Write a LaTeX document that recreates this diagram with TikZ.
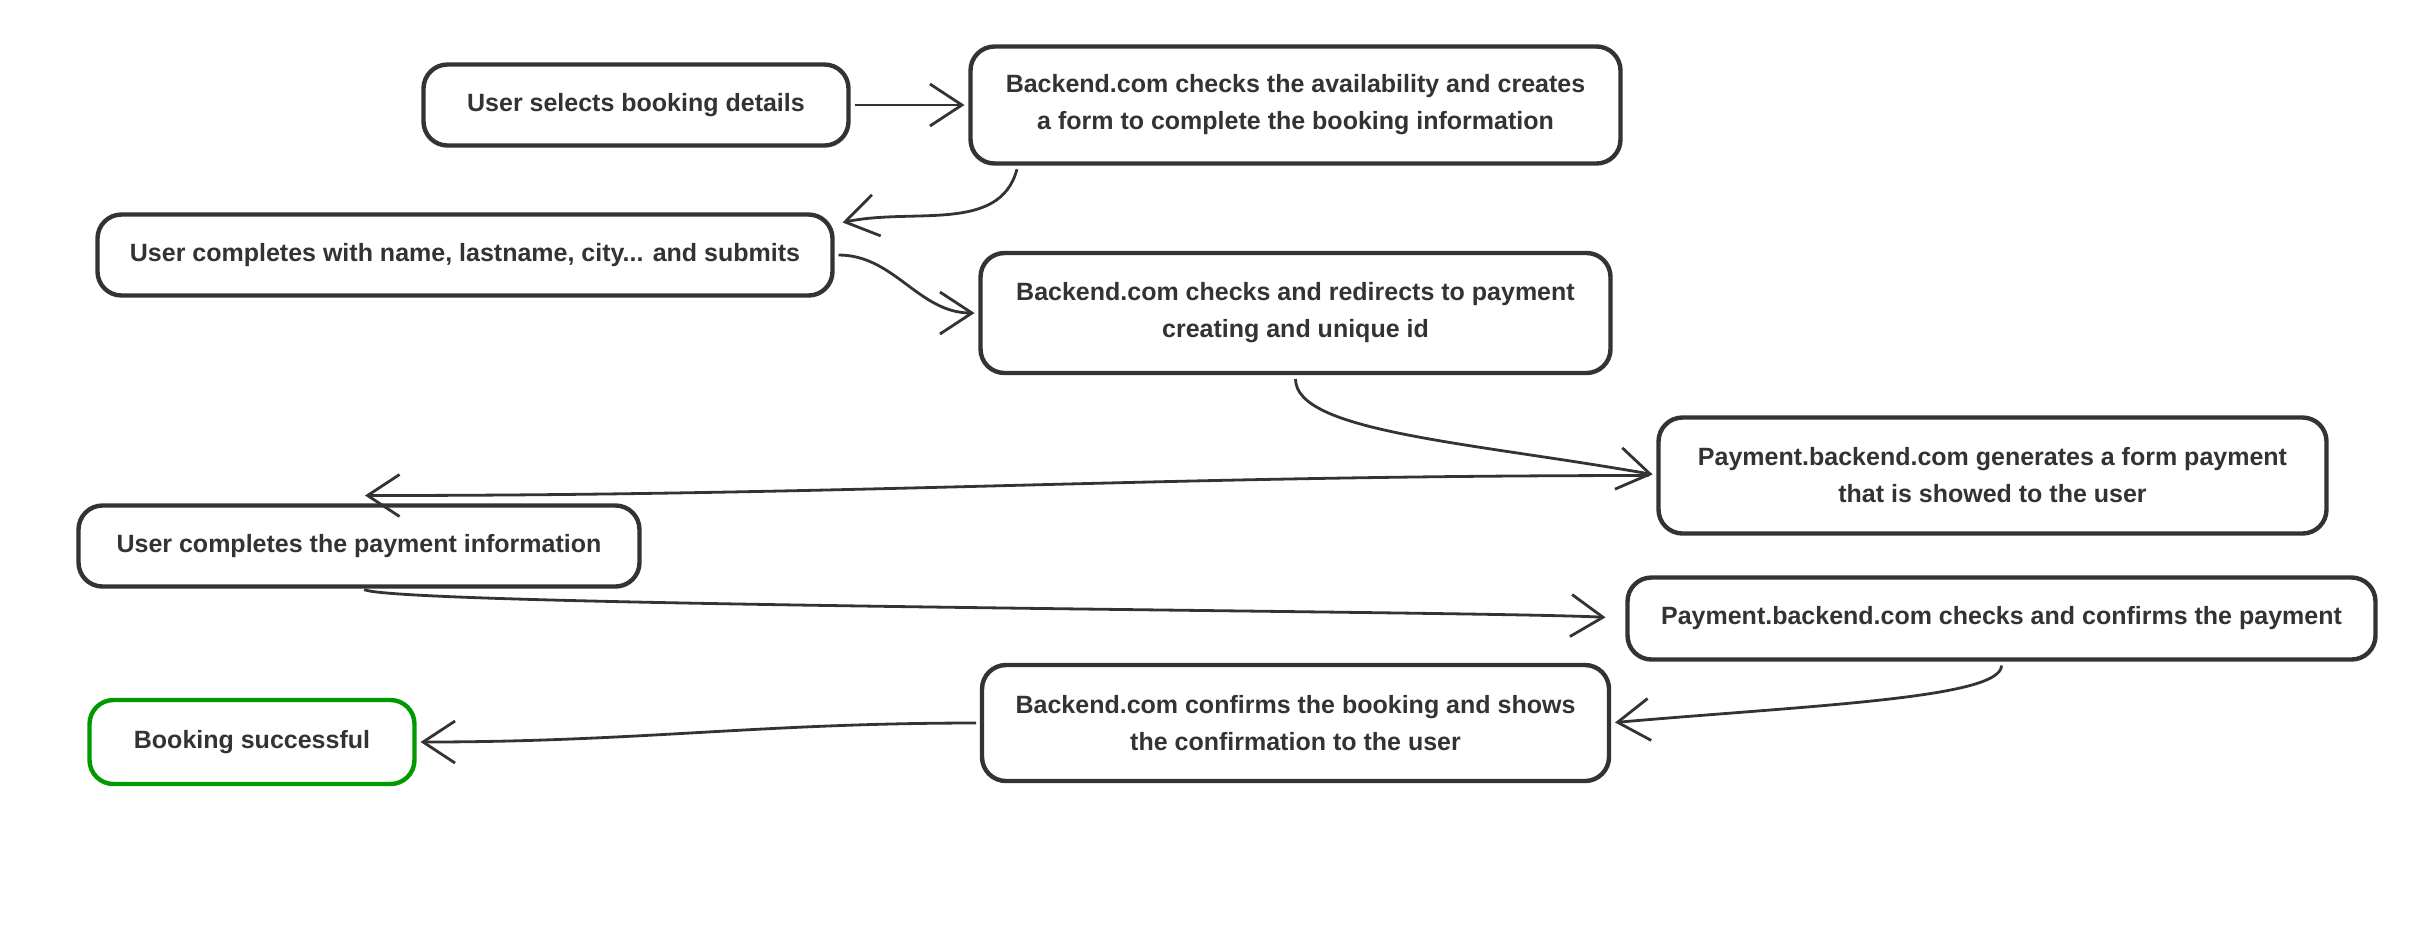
\documentclass[tikz,border=0pt]{standalone}
\usepackage{fontspec}
\setmainfont{Liberation Sans}
\usetikzlibrary{arrows.meta, positioning}
\definecolor{InkGray}{HTML}{333333}
\definecolor{DoneGreen}{HTML}{009A00}
\tikzset{
  stepbox/.style={draw=InkGray, line width=2.2pt, rounded corners=12pt, fill=white, align=center, inner sep=3pt, outer sep=0pt, text=InkGray, font=\fontsize{12.5}{18.5}\selectfont\bfseries},
  donebox/.style={stepbox, draw=DoneGreen},
  flow/.style={-{Straight Barb[length=16pt, width=21pt]}, line width=1.4pt, draw=InkGray, shorten <=3pt, shorten >=3pt}
}
\begin{document}
\begin{tikzpicture}
\useasboundingbox (0,0) rectangle (1214pt,-467pt);
\node[stepbox, minimum width=212.5pt, minimum height=40.5pt] (select) at (318pt,-52.5pt) {User selects booking details};
\node[stepbox, minimum width=325pt, minimum height=58.5pt, right=61pt of select] (avail) {Backend.com checks the availability and creates\\a form to complete the booking information};
\node[stepbox, minimum width=367.5pt, minimum height=40.5pt, below left=34.5pt and 8pt of select.south east] (fill) {User completes with name, lastname, city... and submits};
\node[stepbox, minimum width=315pt, minimum height=60pt, below=44.75pt of avail] (redirect) {Backend.com checks and redirects to payment\\creating and unique id};
\node[stepbox, minimum width=334pt, minimum height=58pt, below right=22.25pt and 24pt of redirect.south east] (payform) {Payment.backend.com generates a form payment\\that is showed to the user};
\node[stepbox, minimum width=280.5pt, minimum height=40.5pt, below left=105pt and 9.5pt of fill.south west, anchor=north west] (payinfo) {User completes the payment information};
\node[stepbox, minimum width=374pt, minimum height=41pt, below left=22pt and 15.5pt of payform.south west, anchor=north west] (paycheck) {Payment.backend.com checks and confirms the payment};
\node[stepbox, minimum width=313.5pt, minimum height=58pt, below=146pt of redirect] (confirm) {Backend.com confirms the booking and shows\\the confirmation to the user};
\node[donebox, minimum width=162.5pt, minimum height=42pt, below right=56.75pt and 5.5pt of payinfo.south west] (done) {Booking successful};

\draw[flow] (select) -- (avail);
\draw[flow, shorten >=0pt] ([xshift=24pt]avail.south west) to[out=-105, in=12] ([shift={(5pt,-4pt)}]fill.north east);
\draw[flow] (fill.east) to[out=0, in=180] (redirect.west);
\draw[flow] (redirect.south) to[out=-90, in=170, out looseness=0.4, in looseness=1.3] (payform.west);
\draw[flow, shorten <=5pt] (payform.west) to[out=180, in=0] ([yshift=5pt]payinfo.north);
\draw[flow, shorten >=11pt] (payinfo.south) to[out=-30, in=177, out looseness=0.08, in looseness=0.3] (paycheck.west);
\draw[flow] (paycheck.south) to[out=-90, in=5, out looseness=0.25, in looseness=1.3] (confirm.east);
\draw[flow] (confirm.west) to[out=180, in=0] (done.east);
\end{tikzpicture}
\end{document}
